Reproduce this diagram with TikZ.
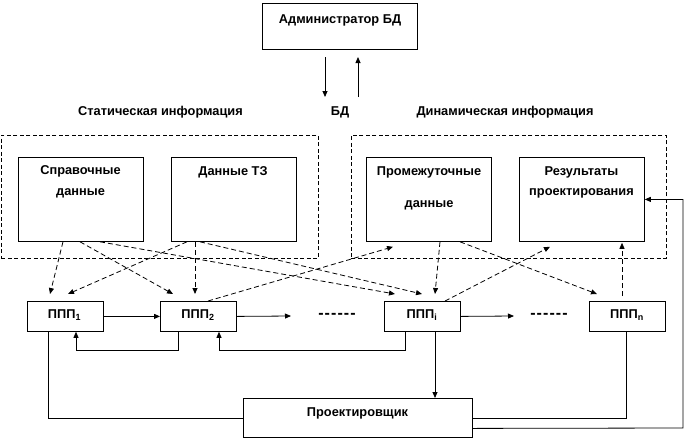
\documentclass[tikz,border=0pt]{standalone}
\usepackage{fontspec}
\setmainfont{Liberation Sans}
\usetikzlibrary{arrows.meta,calc}
\newcommand{\hy}{-\hspace{1.1pt}}
\begin{document}
\begin{tikzpicture}[x=1pt,y=-1pt,
  every node/.style={font=\bfseries\fontsize{12.8}{14}\selectfont, inner sep=0pt},
  dotsty/.style={font=\bfseries\fontsize{16}{18}\selectfont},
  box/.style={draw, line width=0.8pt, anchor=north west},
  bigbox/.style={box, minimum width=125pt, minimum height=84pt},
  pppbox/.style={box, minimum width=76pt, minimum height=30pt},
  frame/.style={draw, line width=0.8pt, dash pattern=on 4pt off 2.5pt},
  ln/.style={draw, line width=0.8pt},
  arr/.style={ln, -{Triangle[length=6pt,width=5pt]}},
  darr/.style={arr, dash pattern=on 5pt off 3pt}
]
\useasboundingbox (0,0) rectangle (686,440);

% admin
\node[box, minimum width=155pt, minimum height=46pt] (admin) at (262,3) {};
\node (tadmin) at (340,20) {Администратор БД};
\coordinate (a1s) at (325,57);
\coordinate (a1e) at (325,97);
\coordinate (a2s) at (358,97);
\coordinate (a2e) at (358,57);
\draw[arr] (a1s) -- (a1e);
\draw[arr] (a2s) -- (a2e);

% labels
\node (tstat) at (160.5,112) {Статическая информация};
\node (tbd) at (340,112) {БД};
\node (tdyn) at (505,112) {Динамическая информация};

% frames
\node[frame, anchor=north west, minimum width=317pt, minimum height=123pt] (fl) at (1,135) {};
\node[frame, anchor=north west, minimum width=315pt, minimum height=123pt] (fr) at (351,135) {};

% data boxes
\node[bigbox] (sprav) at (18,157) {};
\node (tsprav1) at (80.5,171) {Справочные};
\node (tsprav2) at (80.5,193) {данные};
\node[bigbox] (dtz) at (171,157) {};
\node (tdtz) at (233,172) {Данные ТЗ};
\node[bigbox] (prom) at (366,157) {};
\node (tprom1) at (429,172) {Промежуточные};
\node (tprom2) at (429,205) {данные};
\node[bigbox] (rez) at (519,157) {};
\node (trez1) at (581.5,172) {Результаты};
\node (trez2) at (581.5,193) {проектирования};

% PPP boxes
\node[pppbox] (ppp1) at (27,301) {};
\node (tp1) at (64.5,315) {ППП\textsubscript{1}};
\node[pppbox] (ppp2) at (160,301) {};
\node (tp2) at (198,315) {ППП\textsubscript{2}};
\node[pppbox] (pppi) at (384,301) {};
\node (tpi) at (422,315) {ППП\textsubscript{i}};
\node[pppbox] (pppn) at (589,301) {};
\node (tpn) at (627,315) {ППП\textsubscript{n}};

\node[dotsty] (dots1) at (337,316) {\hy\hy\hy\hy\hy-};
\node[dotsty] (dots2) at (549,316) {\hy\hy\hy\hy\hy-};
\coordinate (d1) at (291,316);
\coordinate (d2) at (514,316);

% designer
\node[box, minimum width=229pt, minimum height=39pt] (proj) at (243,398) {};
\node (tproj) at (357.5,413) {Проектировщик};

% solid arrows
\draw[arr] (ppp1.east) -- (ppp2.west);
\draw[arr] (ppp2.east) -- (d1);
\draw[arr] (pppi.east) -- (d2);
\draw[arr] ([xshift=18pt]ppp2.south west) -- ++(0,19) -| ([xshift=49pt]ppp1.south west);
\draw[arr] ([xshift=21pt]pppi.south west) -- ++(0,19) -| ([xshift=59pt]ppp2.south west);
\draw[arr] ([xshift=51pt]pppi.south west) -- ([xshift=192pt]proj.north west);
\draw[ln] ([xshift=21pt]ppp1.south west) |- (proj.west);
\draw[ln] ([xshift=37pt]pppn.south west) |- (proj.east);
\coordinate (rc) at (683,428);
\draw[arr] ([yshift=-10.5pt]proj.east) -- (rc) |- (rez.east);

% dashed arrows
\draw[darr] ([xshift=45pt]sprav.south west) -- ([xshift=23pt,yshift=7pt]ppp1.north west);
\draw[darr] ([xshift=62pt]sprav.south west) -- ([xshift=146pt,yshift=7pt]ppp1.north west);
\draw[darr] ([xshift=82pt]sprav.south west) -- ([xshift=11pt,yshift=7pt]pppi.north west);
\draw[darr] ([xshift=16pt]dtz.south west) -- ([xshift=41pt,yshift=7pt]ppp1.north west);
\draw[darr] ([xshift=24pt]dtz.south west) -- ([xshift=35pt,yshift=7pt]ppp2.north west);
\draw[darr] ([xshift=29pt]dtz.south west) -- ([xshift=38pt,yshift=7pt]pppi.north west);
\draw[darr] ([xshift=48pt]ppp2.north west) -- ([xshift=27pt,yshift=-5pt]prom.south west);
\draw[darr] ([xshift=74pt]prom.south west) -- ([xshift=51pt,yshift=7pt]pppi.north west);
\draw[darr] ([xshift=94pt]prom.south west) -- ([xshift=8pt,yshift=7pt]pppn.north west);
\draw[darr] ([xshift=61pt]pppi.north west) -- ([xshift=31pt,yshift=-5pt]rez.south west);
\draw[darr] ([xshift=33pt,yshift=5pt]pppn.north west) -- ([xshift=103pt,yshift=-1pt]rez.south west);
\end{tikzpicture}
\end{document}
